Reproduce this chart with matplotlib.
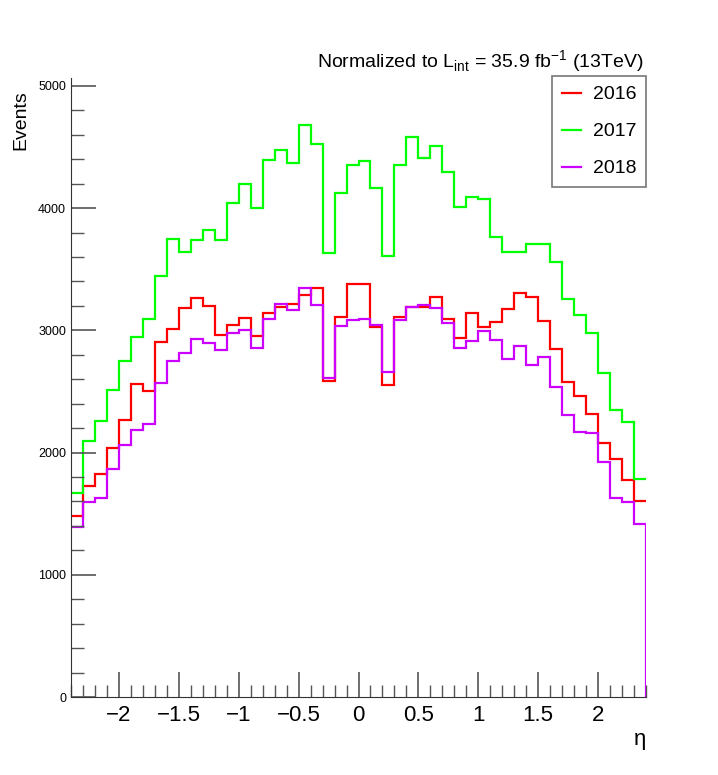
import numpy as np
import matplotlib
matplotlib.use("Agg")
import matplotlib.pyplot as plt
from matplotlib.ticker import MultipleLocator

plt.rcParams['font.family'] = ['Liberation Sans', 'DejaVu Sans']
plt.rcParams['mathtext.fontset'] = 'custom'
plt.rcParams['mathtext.rm'] = 'Liberation Sans'

edges = np.linspace(-2.4, 2.4, 49)
y2016 = [1481,1727,1828,2038,2269,2561,2507,2908,3014,3183,3265,3200,2962,3044,3104,2954,3145,3194,3216,3290,3347,2589,3112,3380,
         3380,3025,2556,3112,3194,3194,3276,3093,2938,3145,3030,3071,3172,3308,3276,3080,2850,2580,2466,2318,2081,1950,1778,1606]
y2017 = [1672,2095,2261,2512,2752,2949,3091,3448,3751,3641,3740,3824,3740,4042,4201,4001,4394,4476,4373,4684,4528,3633,4127,4356,
         4386,4165,3612,4353,4585,4414,4509,4299,4013,4092,4078,3762,3644,3644,3707,3707,3562,3260,3129,2981,2654,2351,2253,1786]
y2018 = [1394,1598,1626,1868,2065,2185,2231,2572,2752,2818,2930,2900,2842,2981,3003,2859,3096,3219,3170,3347,3210,2613,3036,3083,
         3096,3044,2660,3085,3194,3210,3183,3058,2859,2916,2998,2924,2769,2875,2720,2785,2534,2305,2171,2158,1926,1626,1598,1418]
labels = ["2016", "2017", "2018"]
colors = ["#ff0000", "#00ff00", "#cc00ff"]

fig = plt.figure(figsize=(7.18, 7.75), dpi=100)
ax = fig.add_axes([71/718, 1-697/775, (646-71)/718, (697-78)/775])
for vals, lab, c in zip([y2016, y2017, y2018], labels, colors):
    v = np.array(vals)
    ax.stairs(v, edges, color=c, lw=1.6, label=lab, baseline=None)
ax.vlines(edges[-1], 0, y2018[-1], color=colors[2], lw=1.6)
ax.set_xlim(-2.4, 2.4)
ax.set_ylim(0, 5065)
for s in ["top", "right"]:
    ax.spines[s].set_visible(False)
ax.spines["left"].set_color("#333333")
ax.spines["bottom"].set_color("#333333")
ax.xaxis.set_major_locator(MultipleLocator(0.5))
ax.xaxis.set_minor_locator(MultipleLocator(0.1))
ax.yaxis.set_major_locator(MultipleLocator(1000))
ax.yaxis.set_minor_locator(MultipleLocator(200))
ax.tick_params(which="both", direction="in", color="#555555")
ax.tick_params(which="major", length=18, width=1.2)
ax.tick_params(which="minor", length=9, width=1)
ax.tick_params(axis="x", labelsize=16, pad=6)
ax.tick_params(axis="y", labelsize=9)
ax.set_xticks(np.arange(-2, 2.01, 0.5))
ax.set_xticklabels(["\u22122", "\u22121.5", "\u22121", "\u22120.5", "0", "0.5", "1", "1.5", "2"])
fig.text(646/718, 1-740/775, "\u03b7", ha="right", va="center", fontsize=16)
fig.text(12/718, 1-120/775, "Events", rotation=90, ha="left", va="center", fontsize=14)
fig.text(644/718, 1-62/775, r"Normalized to L$_{\rm int}$ = 35.9 fb$^{-1}$ (13TeV)", ha="right", va="center", fontsize=14)
leg = ax.legend(loc="upper right", bbox_to_anchor=(1.0, 1.0 + 2/619), frameon=True, fancybox=False,
                fontsize=14, handlelength=1.0, labelspacing=1.0, borderpad=0.5, handletextpad=0.6,
                borderaxespad=0)
leg.get_frame().set_edgecolor("#555555")
leg.get_frame().set_linewidth(1.2)
fig.savefig("out.png", dpi=100)
